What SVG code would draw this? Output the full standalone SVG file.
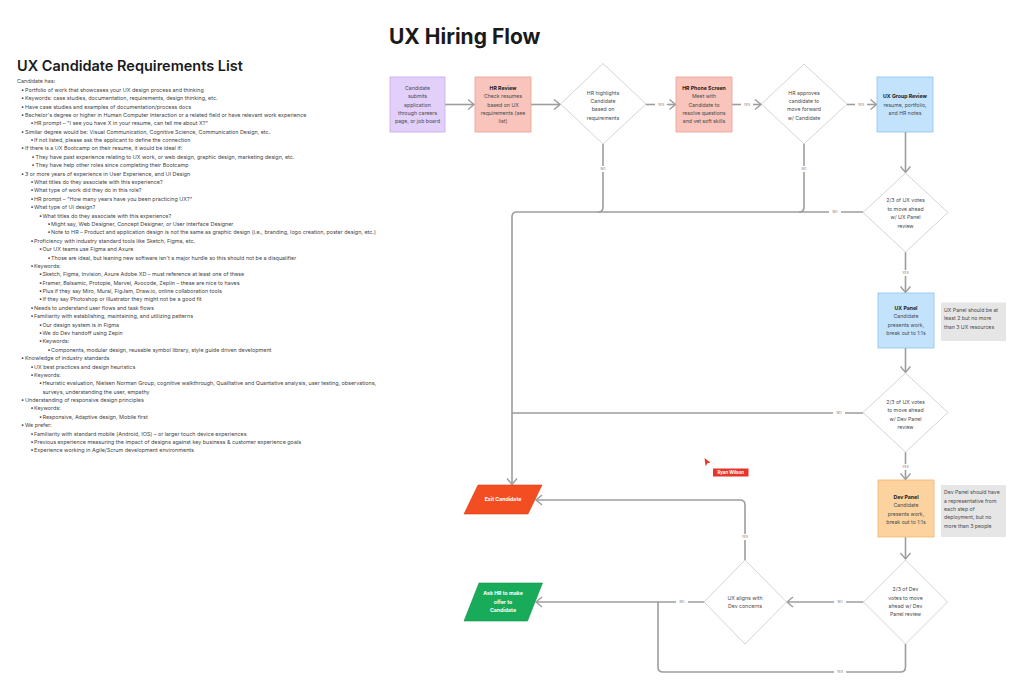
<svg xmlns="http://www.w3.org/2000/svg" width="1024" height="697" viewBox="0 0 1024 697">
<defs>
<style>
.ttl{font-family:Inter,"Liberation Sans",sans-serif;font-weight:700;font-size:21px;fill:#1a1a1a}
.h2{font-family:Inter,"Liberation Sans",sans-serif;font-weight:600;font-size:14.5px;fill:#1a1a1a}
.li{font-family:Inter,"Liberation Sans",sans-serif;font-size:5.4px;fill:#444}
.nt{font-family:Inter,"Liberation Sans",sans-serif;font-size:5.2px;fill:#4a4a4a;text-anchor:middle}
.nb{font-weight:700;fill:#222}
.note{font-family:Inter,"Liberation Sans",sans-serif;font-size:5.2px;fill:#4a4a4a}
.wt{font-family:Inter,"Liberation Sans",sans-serif;font-size:5.2px;font-weight:700;fill:#fff;text-anchor:middle}
.lbl{font-family:Inter,"Liberation Sans",sans-serif;font-size:3.4px;fill:#777;text-anchor:middle}
.ln{fill:none;stroke:#9d9d9d;stroke-width:1.6}
.dia{fill:#fff;stroke:#cfcfcf;stroke-width:0.9}
</style>
<marker id="arr" markerUnits="userSpaceOnUse" markerWidth="14" markerHeight="14" refX="7" refY="6" orient="auto">
<path d="M1,1 L7,6 L1,11" fill="none" stroke="#9d9d9d" stroke-width="1.4"/>
</marker>
</defs>
<rect width="1024" height="697" fill="#fff"/>

<text class="ttl" x="389" y="44">UX Hiring Flow</text>

<g id="requirements-list">
<text class="h2" x="17" y="70.5">UX Candidate Requirements List</text>
<text class="li">
<tspan x="17" y="83.4">Candidate has:</tspan>
<tspan x="21" dy="8.386">•</tspan><tspan x="25">Portfolio of work that showcases your UX design process and thinking</tspan>
<tspan x="21" dy="8.386">•</tspan><tspan x="25">Keywords: case studies, documentation, requirements, design thinking, etc.</tspan>
<tspan x="21" dy="8.386">•</tspan><tspan x="25">Have case studies and examples of documentation/process docs</tspan>
<tspan x="21" dy="8.386">•</tspan><tspan x="25">Bachelor's degree or higher in Human Computer Interaction or a related field or have relevant work experience</tspan>
<tspan x="30.5" dy="8.386">•</tspan><tspan x="34">HR prompt – "I see you have X in your resume, can tell me about X?"</tspan>
<tspan x="21" dy="8.386">•</tspan><tspan x="25">Similar degree would be: Visual Communication, Cognitive Science, Communication Design, etc.</tspan>
<tspan x="30.5" dy="8.386">•</tspan><tspan x="34">If not listed, please ask the applicant to define the connection</tspan>
<tspan x="21" dy="8.386">•</tspan><tspan x="25">If there is a UX Bootcamp on their resume, it would be ideal if:</tspan>
<tspan x="31.5" dy="8.386">•</tspan><tspan x="35.5">They have past experience relating to UX work, or web design, graphic design, marketing design, etc.</tspan>
<tspan x="31.5" dy="8.386">•</tspan><tspan x="35.5">They have help other roles since completing their Bootcamp</tspan>
<tspan x="21" dy="8.386">•</tspan><tspan x="25">3 or more years of experience in User Experience, and UI Design</tspan>
<tspan x="30.5" dy="8.386">•</tspan><tspan x="34">What titles do they associate with this experience?</tspan>
<tspan x="30.5" dy="8.386">•</tspan><tspan x="34">What type of work did they do in this role?</tspan>
<tspan x="30.5" dy="8.386">•</tspan><tspan x="34">HR prompt – "How many years have you been practicing UX?"</tspan>
<tspan x="30.5" dy="8.386">•</tspan><tspan x="34">What type of UI design?</tspan>
<tspan x="39" dy="8.386">•</tspan><tspan x="42.5">What titles do they associate with this experience?</tspan>
<tspan x="47.5" dy="8.386">•</tspan><tspan x="51">Might say, Web Designer, Concept Designer, or User Interface Designer</tspan>
<tspan x="47.5" dy="8.386">•</tspan><tspan x="51">Note to HR – Product and application design is not the same as graphic design (i.e., branding, logo creation, poster design, etc.)</tspan>
<tspan x="30.5" dy="8.386">•</tspan><tspan x="34">Proficiency with industry standard tools like Sketch, Figma, etc.</tspan>
<tspan x="39" dy="8.386">•</tspan><tspan x="42.5">Our UX teams use Figma and Axure</tspan>
<tspan x="47.5" dy="8.386">•</tspan><tspan x="51">Those are ideal, but leaning new software isn't a major hurdle so this should not be a disqualifier</tspan>
<tspan x="30.5" dy="8.386">•</tspan><tspan x="34">Keywords:</tspan>
<tspan x="39" dy="8.386">•</tspan><tspan x="42.5">Sketch, Figma, Invision, Axure Adobe XD – must reference at least one of these</tspan>
<tspan x="39" dy="8.386">•</tspan><tspan x="42.5">Framer, Balsamic, Protopie, Marvel, Avocode, Zeplin – these are nice to haves</tspan>
<tspan x="39" dy="8.386">•</tspan><tspan x="42.5">Plus if they say Miro, Mural, FigJam, Draw.io, online collaboration tools</tspan>
<tspan x="39" dy="8.386">•</tspan><tspan x="42.5">If they say Photoshop or Illustrator they might not be a good fit</tspan>
<tspan x="30.5" dy="8.386">•</tspan><tspan x="34">Needs to understand user flows and task flows</tspan>
<tspan x="30.5" dy="8.386">•</tspan><tspan x="34">Familiarity with establishing, maintaining, and utilizing patterns</tspan>
<tspan x="39" dy="8.386">•</tspan><tspan x="42.5">Our design system is in Figma</tspan>
<tspan x="39" dy="8.386">•</tspan><tspan x="42.5">We do Dev handoff using Zepin</tspan>
<tspan x="39" dy="8.386">•</tspan><tspan x="42.5">Keywords:</tspan>
<tspan x="47.5" dy="8.386">•</tspan><tspan x="51">Components, modular design, reusable symbol library, style guide driven development</tspan>
<tspan x="21" dy="8.386">•</tspan><tspan x="25">Knowledge of industry standards</tspan>
<tspan x="30.5" dy="8.386">•</tspan><tspan x="34">UX best practices and design heuristics</tspan>
<tspan x="30.5" dy="8.386">•</tspan><tspan x="34">Keywords:</tspan>
<tspan x="39" dy="8.386">•</tspan><tspan x="42.5">Heuristic evaluation, Nielsen Norman Group, cognitive walkthrough, Qualitative and Quantative analysis, user testing, observations,</tspan>
<tspan x="42.5" dy="8.386">surveys, understanding the user, empathy</tspan>
<tspan x="21" dy="8.386">•</tspan><tspan x="25">Understanding of responsive design principles</tspan>
<tspan x="30.5" dy="8.386">•</tspan><tspan x="34">Keywords:</tspan>
<tspan x="39" dy="8.386">•</tspan><tspan x="42.5">Responsive, Adaptive design, Mobile first</tspan>
<tspan x="21" dy="8.386">•</tspan><tspan x="25">We prefer:</tspan>
<tspan x="30.5" dy="8.386">•</tspan><tspan x="34">Familiarity with standard mobile (Android, IOS) – or larger touch device experiences</tspan>
<tspan x="30.5" dy="8.386">•</tspan><tspan x="34">Previous experience measuring the impact of designs against key business &amp; customer experience goals</tspan>
<tspan x="30.5" dy="8.386">•</tspan><tspan x="34">Experience working in Agile/Scrum development environments</tspan>
</text>
</g>

<g id="connectors">
<path class="ln" d="M445,104.5 H474" marker-end="url(#arr)"/>
<path class="ln" d="M531,104.5 H560" marker-end="url(#arr)"/>
<path class="ln" d="M646,104.5 H675.5" marker-end="url(#arr)"/>
<path class="ln" d="M732,104.5 H761" marker-end="url(#arr)"/>
<path class="ln" d="M847,104.5 H876.5" marker-end="url(#arr)"/>
<path class="ln" d="M905.5,132 V172.5" marker-end="url(#arr)"/>
<path class="ln" d="M603,144 V207 Q603,212 598,212"/>
<path class="ln" d="M804,144 V207 Q804,212 799,212"/>
<path class="ln" d="M863,212 H517 Q512,212 512,217 V484.5" marker-end="url(#arr)"/>
<path class="ln" d="M905.5,252 V292.5" marker-end="url(#arr)"/>
<path class="ln" d="M905.5,348 V372.5" marker-end="url(#arr)"/>
<path class="ln" d="M863,413 H512"/>
<path class="ln" d="M905.5,452 V479.5" marker-end="url(#arr)"/>
<path class="ln" d="M905.5,537 V559" marker-end="url(#arr)"/>
<path class="ln" d="M863.5,602 H787" marker-end="url(#arr)"/>
<path class="ln" d="M704,602 H536" marker-end="url(#arr)"/>
<path class="ln" d="M905.5,644 V667 Q905.5,672 900.5,672 H663 Q658,672 658,667 V602"/>
<path class="ln" d="M745,560 V505 Q745,500 740,500 H536" marker-end="url(#arr)"/>
<g fill="#fff">
<rect x="655" y="101.5" width="12" height="6"/>
<rect x="741" y="101.5" width="12" height="6"/>
<rect x="855" y="101.5" width="12" height="6"/>
<rect x="597" y="166" width="12" height="6"/>
<rect x="798" y="166" width="12" height="6"/>
<rect x="829" y="209" width="12" height="6"/>
<rect x="899.5" y="270" width="12" height="6"/>
<rect x="833" y="410" width="12" height="6"/>
<rect x="899.5" y="464" width="12" height="6"/>
<rect x="739" y="534" width="12" height="6"/>
<rect x="834" y="599" width="12" height="6"/>
<rect x="676" y="599" width="12" height="6"/>
<rect x="834" y="669" width="12" height="6"/>
</g>
<text class="lbl" x="661" y="105.7">YES</text>
<text class="lbl" x="747" y="105.7">YES</text>
<text class="lbl" x="861" y="105.7">YES</text>
<text class="lbl" x="603" y="170.2">NO</text>
<text class="lbl" x="804" y="170.2">NO</text>
<text class="lbl" x="835" y="213.2">NO</text>
<text class="lbl" x="905.5" y="274.2">YES</text>
<text class="lbl" x="839" y="414.2">NO</text>
<text class="lbl" x="905.5" y="468.2">YES</text>
<text class="lbl" x="745" y="538.2">YES</text>
<text class="lbl" x="840" y="603.2">NO</text>
<text class="lbl" x="682" y="603.2">NO</text>
<text class="lbl" x="840" y="673.2">YES</text>
</g>

<g id="n-submit">
<rect x="390" y="77" width="55" height="55" fill="#e3d0fa" stroke="#c6a8f0" stroke-width="0.8"/>
<text class="nt"><tspan x="417.5" y="89.8">Candidate</tspan><tspan x="417.5" dy="8.4">submits</tspan><tspan x="417.5" dy="8.4">application</tspan><tspan x="417.5" dy="8.4">through careers</tspan><tspan x="417.5" dy="8.4">page, or job board</tspan></text>
</g>
<g id="n-hr-review">
<rect x="475" y="77" width="56" height="55" fill="#f8c4bc" stroke="#eaa095" stroke-width="0.8"/>
<text class="nt"><tspan x="503" y="89.8" class="nb">HR Review</tspan><tspan x="503" dy="8.4">Check resumes</tspan><tspan x="503" dy="8.4">based on UX</tspan><tspan x="503" dy="8.4">requirements (see</tspan><tspan x="503" dy="8.4">list)</tspan></text>
</g>
<g id="n-hr-highlights">
<polygon class="dia" points="603,63.5 646,104 603,144 560.5,104"/>
<text class="nt"><tspan x="603" y="94.6">HR highlights</tspan><tspan x="603" dy="8.4">Candidate</tspan><tspan x="603" dy="8.4">based on</tspan><tspan x="603" dy="8.4">requirements</tspan></text>
</g>
<g id="n-phone">
<rect x="676" y="77" width="56" height="55" fill="#f8c4bc" stroke="#eaa095" stroke-width="0.8"/>
<text class="nt"><tspan x="704" y="89.8" class="nb">HR Phone Screen</tspan><tspan x="704" dy="8.4">Meet with</tspan><tspan x="704" dy="8.4">Candidate to</tspan><tspan x="704" dy="8.4">resolve questions</tspan><tspan x="704" dy="8.4">and vet soft skills</tspan></text>
</g>
<g id="n-hr-approves">
<polygon class="dia" points="804,64 847,104 804,144 761.5,104"/>
<text class="nt"><tspan x="804" y="94.6">HR approves</tspan><tspan x="804" dy="8.4">candidate to</tspan><tspan x="804" dy="8.4">move forward</tspan><tspan x="804" dy="8.4">w/ Candidate</tspan></text>
</g>
<g id="n-ux-group">
<rect x="877" y="77" width="56" height="55" fill="#c3e3fd" stroke="#8cc3f0" stroke-width="0.8"/>
<text class="nt"><tspan x="905" y="98.4" class="nb">UX Group Review</tspan><tspan x="905" dy="8.4">resume, portfolio,</tspan><tspan x="905" dy="8.4">and HR notes</tspan></text>
</g>
<g id="n-ux-votes-1">
<polygon class="dia" points="905.5,173 948,212.5 905.5,252 863,212.5"/>
<text class="nt"><tspan x="905.5" y="202.4">2/3 of UX votes</tspan><tspan x="905.5" dy="8.4">to move ahead</tspan><tspan x="905.5" dy="8.4">w/ UX Panel</tspan><tspan x="905.5" dy="8.4">review</tspan></text>
</g>
<g id="n-ux-panel">
<rect x="878" y="293" width="56" height="55" fill="#c3e3fd" stroke="#8cc3f0" stroke-width="0.8"/>
<text class="nt"><tspan x="906" y="310" class="nb">UX Panel</tspan><tspan x="906" dy="8.4">Candidate</tspan><tspan x="906" dy="8.4">presents work,</tspan><tspan x="906" dy="8.4">break out to 1:1s</tspan></text>
</g>
<g id="note-ux-panel">
<rect x="941" y="302.5" width="65" height="38.5" fill="#e6e6e6"/>
<text class="note"><tspan x="944" y="311.8">UX Panel should be at</tspan><tspan x="944" dy="8.4">least 2 but no more</tspan><tspan x="944" dy="8.4">than 3 UX resources</tspan></text>
</g>
<g id="n-ux-votes-2">
<polygon class="dia" points="905.5,373 948,412.5 905.5,452 863,412.5"/>
<text class="nt"><tspan x="905.5" y="403.7">2/3 of UX votes</tspan><tspan x="905.5" dy="8.4">to move ahead</tspan><tspan x="905.5" dy="8.4">w/ Dev Panel</tspan><tspan x="905.5" dy="8.4">review</tspan></text>
</g>
<g id="n-dev-panel">
<rect x="878" y="480" width="56" height="57" fill="#fcd29f" stroke="#f0b56a" stroke-width="0.8"/>
<text class="nt"><tspan x="906" y="498.8" class="nb">Dev Panel</tspan><tspan x="906" dy="8.4">Candidate</tspan><tspan x="906" dy="8.4">presents work,</tspan><tspan x="906" dy="8.4">break out to 1:1s</tspan></text>
</g>
<g id="note-dev-panel">
<rect x="941" y="485" width="65" height="52" fill="#e6e6e6"/>
<text class="note"><tspan x="944" y="494.2">Dev Panel should have</tspan><tspan x="944" dy="8.4">a representative from</tspan><tspan x="944" dy="8.4">each step of</tspan><tspan x="944" dy="8.4">deployment, but no</tspan><tspan x="944" dy="8.4">more than 3 people</tspan></text>
</g>
<g id="n-dev-votes">
<polygon class="dia" points="905.5,560 947.5,602 905.5,644 863.5,602"/>
<text class="nt"><tspan x="905.5" y="591.2">2/3 of Dev</tspan><tspan x="905.5" dy="8.4">votes to move</tspan><tspan x="905.5" dy="8.4">ahead w/ Dev</tspan><tspan x="905.5" dy="8.4">Panel review</tspan></text>
</g>
<g id="n-ux-aligns">
<polygon class="dia" points="745,560 786.5,602 745,644 704,602"/>
<text class="nt"><tspan x="745" y="599.8">UX aligns with</tspan><tspan x="745" dy="8.4">Dev concerns</tspan></text>
</g>
<g id="n-exit">
<polygon points="478,485 542,485 528,514 464,514" fill="#f24e22" stroke="#d93d15" stroke-width="0.6"/>
<text class="wt" x="503" y="501.3">Exit Candidate</text>
</g>
<g id="n-offer">
<polygon points="479,583 542.5,583 527.5,621 464,621" fill="#18ac5a" stroke="#12924b" stroke-width="0.6"/>
<text class="wt"><tspan x="503" y="595.4">Ask HR to make</tspan><tspan x="503" dy="8.4">offer to</tspan><tspan x="503" dy="8.4">Candidate</tspan></text>
</g>
<g id="cursor-ryan">
<path d="M704.5,458 L710.5,462.8 L707.4,463.3 L705.6,466.3 Z" fill="#e8352c"/>
<rect x="713" y="468.5" width="35.5" height="8" fill="#e8352c"/>
<text x="730.7" y="474" font-family="Inter,'Liberation Sans',sans-serif" font-size="4.4" font-weight="700" fill="#fff" text-anchor="middle">Ryan Wilson</text>
</g>
</svg>
